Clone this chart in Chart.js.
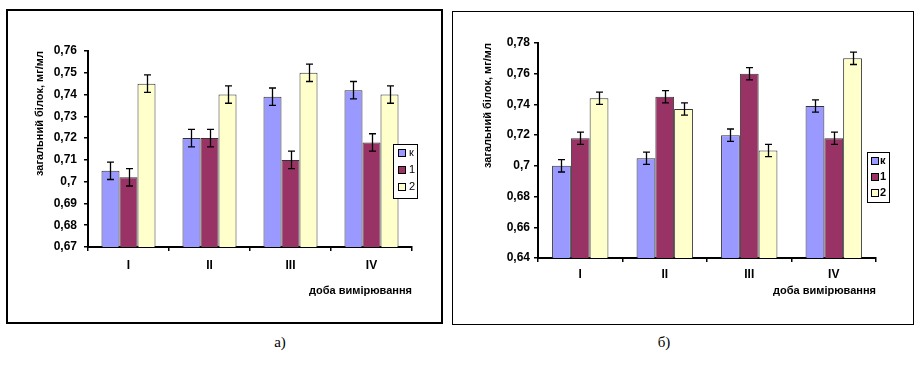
<!DOCTYPE html>
<html>
<head>
<meta charset="utf-8">
<script src="https://cdn.jsdelivr.net/npm/chart.js@4"></script>
<style>
  body { margin: 0; background: #fff; width: 914px; height: 370px; position: relative; overflow: hidden; }
  .box { position: absolute; border: 2px solid #000; box-sizing: border-box; }
  canvas { position: absolute; }
  .cap { position: absolute; font-family: "Liberation Serif", "Times New Roman", serif; font-size: 15px; transform: translateX(-50%); }
</style>
</head>
<body>
<div class="box" style="left:6px;top:9px;width:437px;height:315px"></div>
<div class="box" style="left:452px;top:11px;width:462px;height:314px;border-width:1.5px"></div>
<canvas id="chartA" width="433" height="311" style="left:8px;top:11px"></canvas>
<canvas id="chartB" width="458" height="310" style="left:454px;top:13px"></canvas>
<div class="cap" style="left:280px;top:334px">а)</div>
<div class="cap" style="left:664px;top:334px">б)</div>

<script>
// Data
const days = ['I', 'II', 'III', 'IV'];
const seriesNames = ['к', '1', '2'];
const seriesColors = ['#9999FF', '#993366', '#FFFFCC'];

const controlA = [0.705, 0.72, 0.739, 0.742];
const group1A = [0.702, 0.72, 0.71, 0.718];
const group2A = [0.745, 0.74, 0.75, 0.74];
const errA = [0.004, 0.004, 0.004, 0.004];

const controlB = [0.70, 0.705, 0.72, 0.739];
const group1B = [0.718, 0.745, 0.76, 0.718];
const group2B = [0.744, 0.737, 0.71, 0.77];
const errB = [0.004, 0.004, 0.004, 0.004];

const yTicksA = [0.67, 0.68, 0.69, 0.70, 0.71, 0.72, 0.73, 0.74, 0.75, 0.76];
const yTicksB = [0.64, 0.66, 0.68, 0.70, 0.72, 0.74, 0.76, 0.78];

const yTitle = 'загальний білок, мг/мл';
const xTitle = 'доба вимірювання';

Chart.defaults.font.family = '"Liberation Sans", Arial, sans-serif';
Chart.defaults.color = '#000';

const fmt = v => (Math.round(v * 100) / 100).toString().replace('.', ',');

// error bars drawn from each bar's value through the y scale
const errorBars = {
    id: 'errorBars',
    afterDatasetsDraw(chart) {
        const ctx = chart.ctx;
        const y = chart.scales.y;
        ctx.save();
        ctx.strokeStyle = '#000';
        ctx.lineWidth = 1.3;
        chart.data.datasets.forEach((ds, i) => {
            chart.getDatasetMeta(i).data.forEach((bar, j) => {
                const v = ds.data[j], e = ds.errors[j];
                const t = y.getPixelForValue(v + e), b = y.getPixelForValue(v - e);
                const x = Math.round(bar.x) + 0.5;
                ctx.beginPath();
                ctx.moveTo(x, t); ctx.lineTo(x, b);
                ctx.moveTo(x - 3.5, t); ctx.lineTo(x + 3.5, t);
                ctx.moveTo(x - 3.5, b); ctx.lineTo(x + 3.5, b);
                ctx.stroke();
            });
        });
        ctx.restore();
    }
};

// boxed legend in the Excel style
const boxLegend = {
    id: 'boxLegend',
    afterDraw(chart, args, o) {
        const ctx = chart.ctx;
        ctx.save();
        ctx.fillStyle = '#fff';
        ctx.fillRect(o.x, o.y, o.w, o.h);
        ctx.strokeStyle = '#000';
        ctx.lineWidth = 1;
        ctx.strokeRect(o.x + 0.5, o.y + 0.5, o.w, o.h);
        ctx.font = (o.bold ? 'bold ' : '') + '11px "Liberation Sans", Arial, sans-serif';
        ctx.textBaseline = 'middle';
        chart.data.datasets.forEach((ds, i) => {
            const cy = o.y + o.first + i * o.step;
            ctx.fillStyle = ds.backgroundColor;
            ctx.fillRect(o.x + o.sx, cy - 3.5, 7, 7);
            ctx.strokeRect(o.x + o.sx + 0.5, cy - 3.5, 7, 7);
            ctx.fillStyle = '#000';
            ctx.fillText(ds.label, o.x + o.tx, cy);
        });
        ctx.restore();
    }
};

function makeChart(id, values, errors, yTicks, lay) {
    new Chart(document.getElementById(id), {
        type: 'bar',
        data: {
            labels: days,
            datasets: values.map((vals, i) => ({
                label: seriesNames[i],
                data: vals,
                errors: errors,
                backgroundColor: seriesColors[i],
                borderColor: '#333',
                borderWidth: 1,
                categoryPercentage: 0.667,
                barPercentage: 1
            }))
        },
        options: {
            responsive: false,
            animation: false,
            layout: { autoPadding: false, padding: { left: 0, top: lay.top, right: lay.right, bottom: 0 } },
            plugins: {
                legend: { display: false },
                tooltip: { enabled: false },
                boxLegend: lay.legend
            },
            scales: {
                x: {
                    z: 1,
                    grid: { offset: true, drawOnChartArea: false, color: '#000', tickLength: 4, lineWidth: 1.5 },
                    border: { color: '#000', width: 2 },
                    ticks: { font: { size: 12, weight: 'bold' }, padding: lay.xPad },
                    title: { display: true, text: xTitle, align: 'end', font: { size: 11, weight: 'bold' }, padding: { bottom: lay.xTitlePad } },
                    afterFit: s => { s.height = lay.xHeight; }
                },
                y: {
                    z: 1,
                    min: yTicks[0],
                    max: yTicks[yTicks.length - 1],
                    afterBuildTicks: s => { s.ticks = yTicks.map(v => ({ value: v })); },
                    grid: { drawOnChartArea: false, color: '#000', tickLength: 4, lineWidth: 1.5 },
                    border: { color: '#000', width: 2 },
                    ticks: { font: { size: 12, weight: 'bold' }, padding: lay.yPad, callback: v => fmt(v) },
                    title: { display: true, text: yTitle, align: 'end', font: { size: 11, weight: 'bold' }, padding: { top: lay.yTitlePad } },
                    afterFit: s => { s.width = lay.yWidth; }
                }
            }
        },
        plugins: [errorBars, boxLegend]
    });
}

makeChart('chartA', [controlA, group1A, group2A], errA, yTicksA, {
    top: 40, right: 29, yWidth: 80, xHeight: 75, xPad: 7, yPad: 7,
    xTitlePad: 24, yTitlePad: 25,
    legend: { x: 385, y: 133, w: 24, h: 54, first: 9, step: 17, sx: 5, tx: 16, bold: false }
});

makeChart('chartB', [controlB, group1B, group2B], errB, yTicksB, {
    top: 30, right: 36, yWidth: 84, xHeight: 65, xPad: 5, yPad: 4,
    xTitlePad: 25, yTitlePad: 27,
    legend: { x: 413, y: 139, w: 22, h: 50, first: 9, step: 16, sx: 4, tx: 13, bold: true }
});
</script>
</body>
</html>
